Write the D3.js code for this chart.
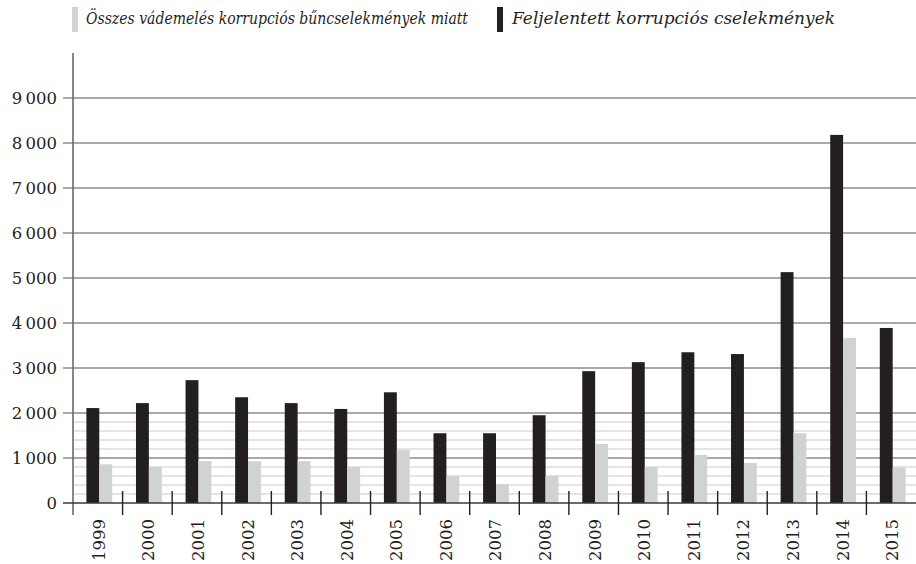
<!DOCTYPE html>
<html>
<head>
<meta charset="utf-8">
<script src="https://cdn.jsdelivr.net/npm/d3@7"></script>
<style>
  html, body { margin: 0; padding: 0; background: #fff; }
  svg { display: block; }
  text { font-family: "DejaVu Serif", serif; fill: #231f20; }
</style>
</head>
<body>
<svg id="chart" width="916" height="564"></svg>
<script>
// Évek (kategóriák)
const years = ["1999","2000","2001","2002","2003","2004","2005","2006","2007","2008","2009","2010","2011","2012","2013","2014","2015"];
// Feljelentett korrupciós cselekmények
const reported = [2110, 2220, 2730, 2350, 2220, 2090, 2460, 1550, 1550, 1950, 2930, 3130, 3350, 3310, 5130, 8180, 3890];
// Összes vádemelés korrupciós bűncselekmények miatt
const indicted = [860, 800, 930, 930, 930, 800, 1180, 600, 420, 600, 1310, 800, 1070, 890, 1550, 3670, 790];
// Tengely feliratai
const yTicks = [0, 1000, 2000, 3000, 4000, 5000, 6000, 7000, 8000, 9000];
const minorTicks = [200, 400, 600, 800, 1200, 1400, 1600, 1800];
const legendLabels = ["Összes vádemelés korrupciós bűncselekmények miatt", "Feljelentett korrupciós cselekmények"];

const colBlack = "#231f20", colGray = "#d1d2d4";
const svg = d3.select("#chart");

const x = d3.scaleBand().domain(years).range([73, 916]).padding(0);
const y = d3.scaleLinear().domain([0, 10000]).range([503, 53]);
const fmt = v => d3.format(",")(v).replace(/,/g, "\u2009");

// finom segédvonalak 2000 alatt
svg.append("g").selectAll("line").data(minorTicks).join("line")
  .attr("x1", 73).attr("x2", 916)
  .attr("y1", d => y(d)).attr("y2", d => y(d))
  .attr("stroke", "#dcdcdc").attr("stroke-width", 1.3);

// fő rácsvonalak
svg.append("g").selectAll("line").data(yTicks.filter(d => d > 0)).join("line")
  .attr("x1", 63).attr("x2", 916)
  .attr("y1", d => y(d)).attr("y2", d => y(d))
  .attr("stroke", "#8c8c8c").attr("stroke-width", 1.3);

// oszlopok
const bw = x.bandwidth() * 0.26;
const off = x.bandwidth() * 0.27;
svg.append("g").selectAll("rect").data(years).join("rect")
  .attr("x", d => x(d) + off)
  .attr("width", bw)
  .attr("y", (d, i) => y(reported[i]))
  .attr("height", (d, i) => y(0) - y(reported[i]))
  .attr("fill", colBlack);
svg.append("g").selectAll("rect").data(years).join("rect")
  .attr("x", d => x(d) + off + bw)
  .attr("width", bw)
  .attr("y", (d, i) => y(indicted[i]))
  .attr("height", (d, i) => y(0) - y(indicted[i]))
  .attr("fill", colGray);

// y tengely
svg.append("line").attr("x1", 73).attr("x2", 73).attr("y1", 53).attr("y2", 515)
  .attr("stroke", "#6a6a6a").attr("stroke-width", 1.6);
// nulla vonal
svg.append("line").attr("x1", 63).attr("x2", 916).attr("y1", y(0)).attr("y2", y(0))
  .attr("stroke", "#3a3a3a").attr("stroke-width", 1.5);

svg.append("g").selectAll("text").data(yTicks).join("text")
  .attr("x", 57).attr("y", d => y(d)).attr("dy", "0.36em")
  .attr("text-anchor", "end").attr("font-size", 16.5)
  .text(fmt);

// kategóriahatárok jelölői
svg.append("g").selectAll("line").data(years.slice(1)).join("line")
  .attr("x1", d => x(d)).attr("x2", d => x(d))
  .attr("y1", 491).attr("y2", 515)
  .attr("stroke", "#231f20").attr("stroke-width", 1.4);

// évszámok
svg.append("g").selectAll("text").data(years).join("text")
  .attr("transform", d => `translate(${x(d) + x.bandwidth() / 2 + 1},519) rotate(-90)`)
  .attr("text-anchor", "end").attr("dy", "0.36em")
  .attr("font-size", 16.5)
  .text(d => d);

// jelmagyarázat
const legend = [
  { label: legendLabels[0], color: colGray, sx: 72, tx: 86, len: 382 },
  { label: legendLabels[1], color: colBlack, sx: 497, tx: 512, len: 323 }
];
const lg = svg.append("g");
lg.selectAll("rect").data(legend).join("rect")
  .attr("x", d => d.sx).attr("y", 7).attr("width", 6).attr("height", 25)
  .attr("fill", d => d.color);
lg.selectAll("text").data(legend).join("text")
  .attr("x", d => d.tx).attr("y", 24)
  .attr("font-size", 16).attr("font-style", "italic")
  .attr("textLength", d => d.len).attr("lengthAdjust", "spacingAndGlyphs")
  .text(d => d.label);
</script>
</body>
</html>
